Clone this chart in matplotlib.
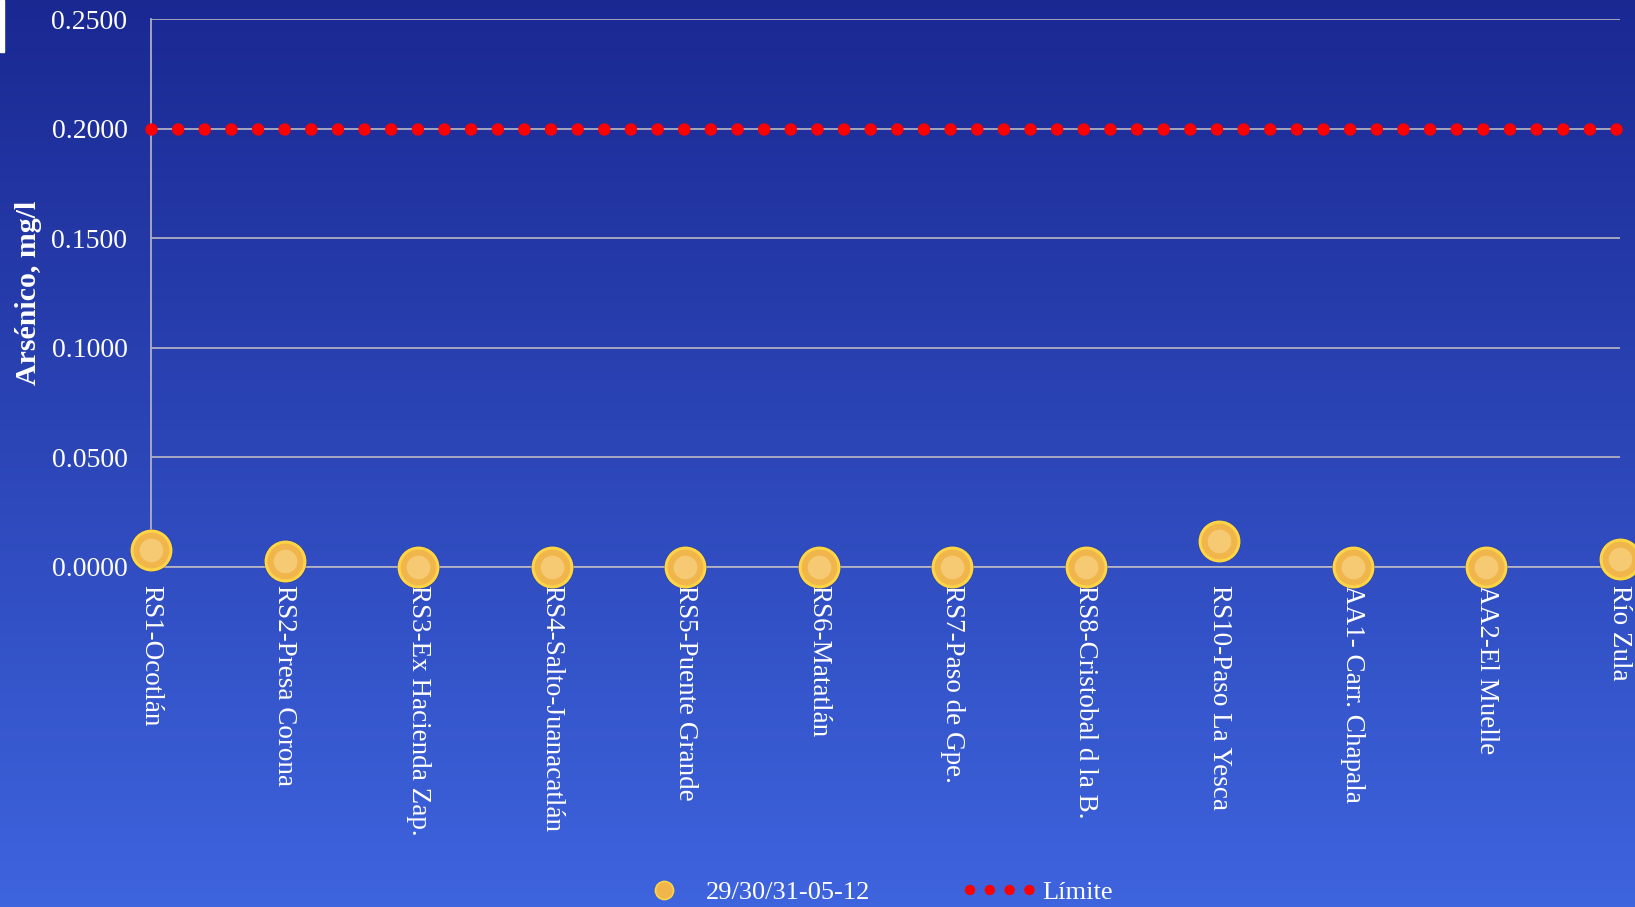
import numpy as np
import matplotlib

matplotlib.use("Agg")
import matplotlib.pyplot as plt  # noqa: E402
from matplotlib.lines import Line2D  # noqa: E402
from matplotlib.patches import Rectangle  # noqa: E402

# data
sitios = [
    "RS1-Ocotlán", "RS2-Presa Corona", "RS3-Ex Hacienda Zap.", "RS4-Salto-Juanacatlán",
    "RS5-Puente Grande", "RS6-Matatlán", "RS7-Paso de Gpe.", "RS8-Cristobal d la B.",
    "RS10-Paso La Yesca", "AA1- Carr. Chapala", "AA2-El Muelle", "Río Zula",
]
arsenico = [0.0075, 0.0028, 0.0, 0.0, 0.0, 0.0, 0.0, 0.0, 0.0120, 0.0, 0.0, 0.0035]
limite = [0.2, 0.2, 0.2, 0.2, 0.2, 0.2, 0.2, 0.2, 0.2, 0.2, 0.2, 0.2]
yticks = [0.0, 0.05, 0.10, 0.15, 0.20, 0.25]
serie_label = "29/30/31-05-12"
limite_label = "Límite"

FONT = "Liberation Serif"
GOLD = "#F0B64C"
GOLD_EDGE = "#FFD546"
GRID = "#B9B9C4"

fig = plt.figure(figsize=(16.35, 9.07), dpi=100)

# blue gradient background
bg = fig.add_axes([0, 0, 1, 1], zorder=-10)
top = np.array([26, 40, 146]) / 255
bot = np.array([62, 100, 222]) / 255
t = np.linspace(0, 1, 256)[:, None]
grad = top + (bot - top) * t
bg.imshow(grad[:, None, :].repeat(2, axis=1), aspect="auto", extent=[0, 1, 0, 1])
bg.set_axis_off()
fig.add_artist(Rectangle((0, 1 - 52 / 907), 4 / 1635, 52 / 907, transform=fig.transFigure,
                         color="white", zorder=5))

ax = fig.add_axes([0.0924, 0.375, 0.8984, 0.604])
ax.set_facecolor("none")
x = np.arange(len(sitios))

ax.set_xlim(0, len(sitios) - 1)
ax.set_ylim(0, 0.25)
ax.set_yticks(yticks)
ax.set_yticklabels([f"{v:.4f}" for v in yticks], fontfamily=FONT, fontsize=20, color="white")
ax.set_xticks(x)
ax.set_xticklabels(sitios, rotation=-90, ha="center", va="top", fontfamily=FONT,
                   fontsize=19.5, color="white")
ax.tick_params(axis="both", length=0)
ax.tick_params(axis="y", pad=17)
ax.tick_params(axis="x", pad=13)
ax.grid(axis="y", color=GRID, lw=1.2)
ax.grid(axis="x", visible=False)
for side in ["top", "right"]:
    ax.spines[side].set_visible(False)
for side in ["left", "bottom"]:
    ax.spines[side].set_color(GRID)
    ax.spines[side].set_linewidth(1.2)

ax.set_ylabel("Arsénico, mg/l", fontfamily=FONT, fontsize=21.5, fontweight="bold",
              color="white", labelpad=7)

# limit line: round red dots
ax.plot(x, limite, color="red", lw=9, linestyle=(0, (0.001, 2.13)),
        dash_capstyle="round", clip_on=False, zorder=4)

# gold balls: shadow, body, highlight
ax.plot(x, arsenico, "o", ms=31, color="#1A2370", alpha=0.35, mew=0, clip_on=False, zorder=5)
ax.plot(x, arsenico, "o", ms=28, mfc=GOLD, mec=GOLD_EDGE, mew=2.2, clip_on=False, zorder=6)
ax.plot(x, arsenico, "o", ms=17, mfc="#F8CE7E", mew=0, alpha=0.8, clip_on=False, zorder=7)

h_serie = Line2D([], [], marker="o", ms=13, mfc=GOLD, mec=GOLD_EDGE, mew=1.2, linestyle="none")
h_lim = Line2D([], [], color="red", lw=7.5, linestyle=(0, (0.001, 1.9)), dash_capstyle="round")
fig.legend([h_serie, h_lim], [serie_label, limite_label], loc="center",
           bbox_to_anchor=(0.534, 0.0165), ncol=2, frameon=False, handlelength=2.35,
           handletextpad=0.4, columnspacing=3.8, prop={"family": FONT, "size": 19},
           labelcolor="white")

fig.savefig("out.png", dpi=100)
